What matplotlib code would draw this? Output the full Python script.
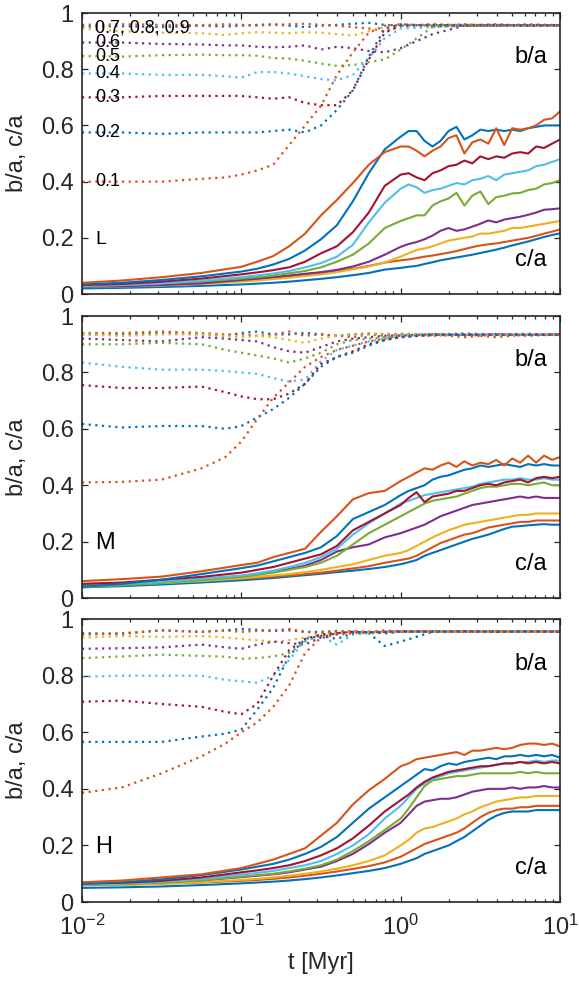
import numpy as np
import matplotlib.pyplot as plt
from matplotlib.ticker import FixedLocator, FuncFormatter, LogLocator, NullFormatter

plt.rcParams['font.family'] = ['Liberation Sans', 'DejaVu Sans']
plt.rcParams['mathtext.default'] = 'regular'

# sample times (log10 of t in Myr)
log_t_ba = [-2.0, -1.75, -1.5, -1.25, -1.1, -1.0, -0.9, -0.8, -0.7, -0.6, -0.5,
            -0.4, -0.3, -0.2, -0.1, 0.0, 0.2, 0.4, 0.6, 0.8, 1.0]
log_t_ca = [-2.0, -1.75, -1.5, -1.25, -1.0, -0.9, -0.8, -0.7, -0.6, -0.5, -0.4,
            -0.3, -0.2, -0.1, 0.0, 0.05, 0.1, 0.15, 0.2, 0.25, 0.3, 0.35, 0.4,
            0.45, 0.5, 0.55, 0.6, 0.65, 0.7, 0.75, 0.8, 0.85, 0.9, 0.95, 1.0]

ratios = ["0.9", "0.8", "0.7", "0.6", "0.5", "0.4", "0.3", "0.2", "0.1"]
colors = ["#0072BD", "#D95319", "#EDB120", "#7E2F8E", "#77AC30",
          "#4DBEEE", "#A2142F", "#0072BD", "#D95319"]

# ---- L ----
L_ba = {
    "0.9": [0.952, 0.953, 0.950, 0.955, 0.952, 0.955, 0.958, 0.960, 0.955, 0.950, 0.955, 0.958, 0.962, 0.965, 0.958, 0.955, 0.958, 0.955, 0.958, 0.955, 0.957],
    "0.8": [0.958, 0.960, 0.958, 0.957, 0.960, 0.958, 0.955, 0.958, 0.960, 0.962, 0.958, 0.955, 0.950, 0.945, 0.935, 0.955, 0.960, 0.957, 0.960, 0.955, 0.958],
    "0.7": [0.945, 0.935, 0.930, 0.928, 0.922, 0.928, 0.932, 0.930, 0.928, 0.932, 0.930, 0.925, 0.920, 0.935, 0.950, 0.955, 0.955, 0.958, 0.955, 0.957, 0.955],
    "0.6": [0.895, 0.895, 0.890, 0.888, 0.885, 0.885, 0.880, 0.878, 0.880, 0.885, 0.870, 0.880, 0.875, 0.865, 0.860, 0.875, 0.925, 0.955, 0.955, 0.958, 0.955],
    "0.5": [0.847, 0.845, 0.850, 0.852, 0.850, 0.850, 0.848, 0.840, 0.838, 0.830, 0.820, 0.812, 0.815, 0.825, 0.835, 0.870, 0.950, 0.955, 0.958, 0.955, 0.957],
    "0.4": [0.785, 0.785, 0.780, 0.780, 0.775, 0.770, 0.790, 0.790, 0.785, 0.775, 0.765, 0.760, 0.780, 0.840, 0.910, 0.945, 0.950, 0.955, 0.958, 0.955, 0.957],
    "0.3": [0.700, 0.700, 0.705, 0.705, 0.705, 0.705, 0.700, 0.695, 0.700, 0.680, 0.672, 0.672, 0.725, 0.835, 0.930, 0.955, 0.958, 0.955, 0.957, 0.955, 0.957],
    "0.2": [0.575, 0.575, 0.570, 0.575, 0.575, 0.575, 0.575, 0.580, 0.585, 0.575, 0.600, 0.655, 0.725, 0.845, 0.945, 0.960, 0.955, 0.958, 0.955, 0.957, 0.955],
    "0.1": [0.400, 0.400, 0.400, 0.410, 0.415, 0.425, 0.440, 0.460, 0.530, 0.600, 0.670, 0.780, 0.860, 0.930, 0.955, 0.960, 0.955, 0.960, 0.955, 0.960, 0.957],
}
L_ca = {
    "0.9": [0.020, 0.022, 0.025, 0.029, 0.034, 0.037, 0.040, 0.044, 0.049, 0.054, 0.060, 0.067, 0.075, 0.087, 0.093, 0.097, 0.100, 0.107, 0.113, 0.120, 0.125, 0.130, 0.135, 0.140, 0.146, 0.152, 0.158, 0.165, 0.173, 0.180, 0.187, 0.195, 0.203, 0.210, 0.216],
    "0.8": [0.027, 0.030, 0.034, 0.040, 0.049, 0.053, 0.058, 0.064, 0.070, 0.076, 0.082, 0.090, 0.100, 0.112, 0.120, 0.123, 0.128, 0.133, 0.137, 0.142, 0.147, 0.153, 0.160, 0.167, 0.173, 0.177, 0.180, 0.185, 0.190, 0.195, 0.200, 0.207, 0.215, 0.222, 0.230],
    "0.7": [0.025, 0.027, 0.030, 0.036, 0.044, 0.048, 0.053, 0.058, 0.064, 0.070, 0.078, 0.088, 0.098, 0.112, 0.133, 0.145, 0.157, 0.162, 0.170, 0.180, 0.190, 0.195, 0.200, 0.205, 0.215, 0.215, 0.220, 0.225, 0.235, 0.235, 0.240, 0.245, 0.250, 0.255, 0.260],
    "0.6": [0.026, 0.028, 0.032, 0.038, 0.050, 0.055, 0.060, 0.066, 0.072, 0.078, 0.086, 0.098, 0.115, 0.140, 0.168, 0.178, 0.185, 0.195, 0.208, 0.225, 0.235, 0.225, 0.230, 0.240, 0.250, 0.262, 0.255, 0.265, 0.270, 0.275, 0.282, 0.290, 0.300, 0.302, 0.305],
    "0.5": [0.030, 0.033, 0.038, 0.045, 0.055, 0.060, 0.066, 0.074, 0.082, 0.095, 0.115, 0.140, 0.180, 0.235, 0.260, 0.270, 0.280, 0.280, 0.315, 0.330, 0.340, 0.360, 0.315, 0.350, 0.365, 0.320, 0.345, 0.350, 0.358, 0.360, 0.370, 0.375, 0.390, 0.395, 0.405],
    "0.4": [0.028, 0.032, 0.038, 0.048, 0.060, 0.066, 0.073, 0.082, 0.095, 0.110, 0.133, 0.175, 0.255, 0.325, 0.375, 0.390, 0.380, 0.360, 0.370, 0.375, 0.385, 0.395, 0.390, 0.405, 0.410, 0.420, 0.405, 0.425, 0.430, 0.435, 0.440, 0.455, 0.460, 0.470, 0.480],
    "0.3": [0.032, 0.036, 0.044, 0.055, 0.070, 0.077, 0.085, 0.095, 0.115, 0.145, 0.170, 0.220, 0.290, 0.385, 0.425, 0.430, 0.415, 0.405, 0.430, 0.440, 0.455, 0.460, 0.475, 0.465, 0.490, 0.480, 0.490, 0.485, 0.500, 0.505, 0.500, 0.525, 0.520, 0.535, 0.550],
    "0.2": [0.035, 0.040, 0.050, 0.063, 0.080, 0.090, 0.105, 0.125, 0.155, 0.195, 0.245, 0.330, 0.430, 0.515, 0.560, 0.580, 0.580, 0.545, 0.525, 0.545, 0.580, 0.595, 0.550, 0.565, 0.585, 0.580, 0.585, 0.580, 0.585, 0.580, 0.590, 0.595, 0.600, 0.600, 0.600],
    "0.1": [0.040, 0.048, 0.060, 0.075, 0.097, 0.115, 0.135, 0.170, 0.215, 0.280, 0.335, 0.395, 0.460, 0.505, 0.525, 0.525, 0.510, 0.490, 0.510, 0.525, 0.555, 0.565, 0.500, 0.540, 0.550, 0.535, 0.590, 0.530, 0.590, 0.585, 0.590, 0.600, 0.620, 0.625, 0.650],
}

# ---- M ----
M_ba = {
    "0.9": [0.935, 0.935, 0.940, 0.935, 0.930, 0.940, 0.945, 0.935, 0.935, 0.940, 0.935, 0.930, 0.935, 0.938, 0.935, 0.937, 0.935, 0.938, 0.935, 0.937, 0.935],
    "0.8": [0.940, 0.940, 0.945, 0.940, 0.935, 0.935, 0.930, 0.935, 0.945, 0.930, 0.935, 0.930, 0.925, 0.935, 0.930, 0.935, 0.930, 0.935, 0.925, 0.935, 0.932],
    "0.7": [0.935, 0.930, 0.935, 0.935, 0.930, 0.925, 0.930, 0.925, 0.915, 0.905, 0.920, 0.930, 0.935, 0.935, 0.937, 0.935, 0.937, 0.935, 0.937, 0.935, 0.937],
    "0.6": [0.920, 0.915, 0.910, 0.925, 0.920, 0.915, 0.910, 0.890, 0.875, 0.870, 0.890, 0.910, 0.920, 0.925, 0.930, 0.932, 0.935, 0.933, 0.935, 0.933, 0.935],
    "0.5": [0.900, 0.900, 0.905, 0.900, 0.880, 0.870, 0.860, 0.850, 0.835, 0.850, 0.870, 0.900, 0.915, 0.920, 0.925, 0.930, 0.932, 0.935, 0.933, 0.935, 0.933],
    "0.4": [0.835, 0.820, 0.810, 0.810, 0.805, 0.800, 0.795, 0.780, 0.768, 0.775, 0.840, 0.880, 0.895, 0.910, 0.920, 0.930, 0.935, 0.933, 0.935, 0.933, 0.935],
    "0.3": [0.755, 0.745, 0.745, 0.750, 0.730, 0.715, 0.705, 0.705, 0.725, 0.760, 0.830, 0.855, 0.875, 0.900, 0.915, 0.925, 0.933, 0.935, 0.933, 0.935, 0.933],
    "0.2": [0.617, 0.605, 0.610, 0.610, 0.600, 0.610, 0.640, 0.670, 0.710, 0.760, 0.820, 0.855, 0.870, 0.895, 0.915, 0.925, 0.935, 0.933, 0.935, 0.933, 0.935],
    "0.1": [0.410, 0.412, 0.420, 0.460, 0.500, 0.555, 0.635, 0.710, 0.765, 0.820, 0.855, 0.880, 0.895, 0.910, 0.920, 0.930, 0.935, 0.925, 0.935, 0.930, 0.935],
}
M_ca = {
    "0.9": [0.038, 0.042, 0.048, 0.055, 0.063, 0.067, 0.071, 0.076, 0.081, 0.086, 0.092, 0.097, 0.103, 0.110, 0.120, 0.127, 0.135, 0.150, 0.160, 0.170, 0.180, 0.190, 0.200, 0.210, 0.217, 0.225, 0.235, 0.245, 0.253, 0.255, 0.258, 0.260, 0.262, 0.260, 0.260],
    "0.8": [0.050, 0.053, 0.057, 0.062, 0.068, 0.072, 0.076, 0.080, 0.085, 0.090, 0.097, 0.105, 0.113, 0.125, 0.135, 0.140, 0.150, 0.165, 0.180, 0.195, 0.205, 0.215, 0.225, 0.230, 0.240, 0.250, 0.255, 0.260, 0.265, 0.270, 0.270, 0.275, 0.275, 0.275, 0.275],
    "0.7": [0.045, 0.048, 0.053, 0.060, 0.070, 0.075, 0.080, 0.085, 0.092, 0.100, 0.110, 0.120, 0.135, 0.150, 0.160, 0.170, 0.185, 0.200, 0.215, 0.228, 0.240, 0.250, 0.260, 0.265, 0.270, 0.275, 0.280, 0.285, 0.290, 0.295, 0.295, 0.300, 0.300, 0.300, 0.300],
    "0.6": [0.045, 0.050, 0.058, 0.067, 0.078, 0.085, 0.093, 0.103, 0.115, 0.135, 0.165, 0.180, 0.190, 0.215, 0.230, 0.240, 0.250, 0.260, 0.275, 0.290, 0.300, 0.310, 0.320, 0.330, 0.335, 0.340, 0.345, 0.350, 0.355, 0.360, 0.355, 0.360, 0.355, 0.355, 0.355],
    "0.5": [0.038, 0.045, 0.053, 0.063, 0.075, 0.082, 0.090, 0.100, 0.110, 0.125, 0.150, 0.190, 0.230, 0.260, 0.290, 0.305, 0.320, 0.335, 0.345, 0.350, 0.355, 0.360, 0.370, 0.380, 0.390, 0.395, 0.395, 0.400, 0.405, 0.405, 0.400, 0.405, 0.410, 0.400, 0.400],
    "0.4": [0.045, 0.050, 0.058, 0.068, 0.080, 0.088, 0.097, 0.110, 0.125, 0.145, 0.175, 0.225, 0.265, 0.300, 0.335, 0.345, 0.355, 0.365, 0.370, 0.375, 0.380, 0.385, 0.390, 0.395, 0.405, 0.410, 0.415, 0.420, 0.420, 0.425, 0.420, 0.420, 0.425, 0.420, 0.420],
    "0.3": [0.050, 0.055, 0.065, 0.075, 0.090, 0.100, 0.110, 0.125, 0.140, 0.155, 0.185, 0.240, 0.270, 0.300, 0.330, 0.355, 0.375, 0.340, 0.360, 0.365, 0.370, 0.380, 0.380, 0.390, 0.400, 0.405, 0.400, 0.410, 0.415, 0.420, 0.410, 0.425, 0.430, 0.425, 0.430],
    "0.2": [0.040, 0.050, 0.065, 0.085, 0.106, 0.115, 0.130, 0.145, 0.160, 0.180, 0.220, 0.280, 0.305, 0.330, 0.365, 0.380, 0.390, 0.400, 0.420, 0.430, 0.435, 0.445, 0.455, 0.460, 0.470, 0.465, 0.470, 0.475, 0.470, 0.465, 0.475, 0.470, 0.475, 0.470, 0.470],
    "0.1": [0.060, 0.067, 0.076, 0.095, 0.117, 0.125, 0.145, 0.160, 0.175, 0.235, 0.290, 0.350, 0.372, 0.380, 0.415, 0.430, 0.445, 0.460, 0.455, 0.470, 0.480, 0.465, 0.485, 0.470, 0.480, 0.475, 0.490, 0.470, 0.495, 0.480, 0.505, 0.480, 0.505, 0.490, 0.500],
}

# ---- H ----
H_ba = {
    "0.9": [0.950, 0.948, 0.960, 0.955, 0.960, 0.965, 0.962, 0.958, 0.960, 0.955, 0.955, 0.958, 0.955, 0.950, 0.905, 0.920, 0.955, 0.957, 0.955, 0.957, 0.955],
    "0.8": [0.945, 0.950, 0.960, 0.955, 0.960, 0.955, 0.958, 0.960, 0.965, 0.955, 0.950, 0.955, 0.958, 0.955, 0.957, 0.955, 0.958, 0.955, 0.957, 0.955, 0.958],
    "0.7": [0.935, 0.940, 0.937, 0.940, 0.935, 0.930, 0.925, 0.920, 0.925, 0.935, 0.945, 0.950, 0.955, 0.953, 0.955, 0.957, 0.955, 0.957, 0.955, 0.957, 0.955],
    "0.6": [0.895, 0.897, 0.900, 0.910, 0.900, 0.895, 0.910, 0.920, 0.915, 0.910, 0.935, 0.950, 0.955, 0.953, 0.955, 0.957, 0.955, 0.957, 0.955, 0.957, 0.955],
    "0.5": [0.862, 0.868, 0.874, 0.870, 0.867, 0.860, 0.862, 0.868, 0.880, 0.920, 0.945, 0.950, 0.955, 0.953, 0.955, 0.957, 0.955, 0.957, 0.955, 0.957, 0.955],
    "0.4": [0.796, 0.800, 0.800, 0.800, 0.785, 0.780, 0.775, 0.800, 0.855, 0.925, 0.940, 0.910, 0.945, 0.950, 0.950, 0.955, 0.957, 0.955, 0.957, 0.955, 0.957],
    "0.3": [0.708, 0.712, 0.700, 0.690, 0.672, 0.664, 0.700, 0.800, 0.890, 0.930, 0.945, 0.950, 0.955, 0.953, 0.955, 0.957, 0.955, 0.957, 0.955, 0.957, 0.955],
    "0.2": [0.566, 0.566, 0.566, 0.585, 0.595, 0.610, 0.680, 0.757, 0.870, 0.930, 0.940, 0.930, 0.950, 0.955, 0.950, 0.955, 0.957, 0.955, 0.957, 0.955, 0.957],
    "0.1": [0.386, 0.405, 0.455, 0.515, 0.560, 0.600, 0.635, 0.690, 0.765, 0.880, 0.935, 0.945, 0.950, 0.955, 0.960, 0.955, 0.958, 0.955, 0.958, 0.955, 0.958],
}
H_ca = {
    "0.9": [0.050, 0.052, 0.055, 0.060, 0.066, 0.069, 0.072, 0.076, 0.081, 0.087, 0.094, 0.102, 0.110, 0.120, 0.135, 0.145, 0.155, 0.170, 0.180, 0.190, 0.200, 0.215, 0.230, 0.250, 0.270, 0.290, 0.305, 0.315, 0.320, 0.320, 0.320, 0.325, 0.325, 0.325, 0.325],
    "0.8": [0.060, 0.062, 0.065, 0.069, 0.075, 0.078, 0.082, 0.087, 0.093, 0.100, 0.108, 0.117, 0.127, 0.140, 0.160, 0.175, 0.190, 0.205, 0.215, 0.225, 0.235, 0.245, 0.260, 0.280, 0.300, 0.315, 0.325, 0.330, 0.330, 0.335, 0.335, 0.340, 0.340, 0.340, 0.340],
    "0.7": [0.058, 0.060, 0.064, 0.070, 0.078, 0.082, 0.087, 0.093, 0.100, 0.108, 0.118, 0.130, 0.145, 0.165, 0.200, 0.220, 0.245, 0.260, 0.265, 0.275, 0.285, 0.295, 0.310, 0.320, 0.335, 0.345, 0.355, 0.360, 0.365, 0.370, 0.370, 0.375, 0.375, 0.375, 0.375],
    "0.6": [0.062, 0.065, 0.070, 0.077, 0.088, 0.093, 0.098, 0.105, 0.115, 0.125, 0.145, 0.170, 0.205, 0.245, 0.280, 0.310, 0.340, 0.355, 0.360, 0.365, 0.365, 0.370, 0.380, 0.390, 0.395, 0.400, 0.400, 0.400, 0.405, 0.400, 0.405, 0.405, 0.410, 0.405, 0.405],
    "0.5": [0.060, 0.063, 0.069, 0.077, 0.090, 0.095, 0.100, 0.108, 0.118, 0.130, 0.150, 0.180, 0.215, 0.255, 0.295, 0.330, 0.370, 0.410, 0.430, 0.435, 0.440, 0.445, 0.445, 0.450, 0.455, 0.455, 0.455, 0.455, 0.455, 0.460, 0.455, 0.460, 0.455, 0.455, 0.455],
    "0.4": [0.060, 0.065, 0.072, 0.082, 0.097, 0.103, 0.110, 0.120, 0.130, 0.145, 0.170, 0.200, 0.240, 0.295, 0.340, 0.370, 0.400, 0.420, 0.435, 0.445, 0.455, 0.460, 0.465, 0.470, 0.475, 0.480, 0.485, 0.490, 0.490, 0.495, 0.495, 0.500, 0.495, 0.500, 0.500],
    "0.3": [0.065, 0.068, 0.075, 0.087, 0.105, 0.112, 0.120, 0.130, 0.145, 0.165, 0.190, 0.225, 0.270, 0.320, 0.360, 0.380, 0.405, 0.425, 0.440, 0.450, 0.460, 0.465, 0.470, 0.475, 0.480, 0.480, 0.485, 0.490, 0.490, 0.495, 0.490, 0.495, 0.490, 0.495, 0.490],
    "0.2": [0.065, 0.070, 0.080, 0.095, 0.115, 0.125, 0.135, 0.150, 0.170, 0.195, 0.230, 0.280, 0.330, 0.370, 0.410, 0.430, 0.450, 0.470, 0.465, 0.480, 0.490, 0.485, 0.495, 0.500, 0.505, 0.510, 0.505, 0.515, 0.515, 0.520, 0.515, 0.520, 0.515, 0.520, 0.510],
    "0.1": [0.070, 0.076, 0.087, 0.098, 0.120, 0.135, 0.150, 0.170, 0.190, 0.235, 0.280, 0.345, 0.395, 0.435, 0.480, 0.490, 0.505, 0.510, 0.515, 0.520, 0.525, 0.530, 0.520, 0.535, 0.535, 0.540, 0.545, 0.540, 0.545, 0.555, 0.560, 0.560, 0.555, 0.560, 0.550],
}

panels = [("L", L_ba, L_ca), ("M", M_ba, M_ca), ("H", H_ba, H_ca)]
boxes = [[0.1416, 0.7024, 0.8256, 0.2844],
         [0.1416, 0.3947, 0.8256, 0.2854],
         [0.1416, 0.0870, 0.8256, 0.2864]]
letter_size = {"L": 14, "M": 17, "H": 17}

axis_col = (0.15, 0.15, 0.15)
t_ba = 10.0 ** np.array(log_t_ba)
t_ca = 10.0 ** np.array(log_t_ca)

fig = plt.figure(figsize=(5.79, 9.88), dpi=100)

for i, ((name, ba, ca), box) in enumerate(zip(panels, boxes)):
    ax = fig.add_axes(box)
    for r, c in zip(ratios, colors):
        ax.plot(t_ba, ba[r], color=c, lw=1.6, linestyle=(0, (1, 2)),
                dash_capstyle='butt')
        ax.plot(t_ca, ca[r], color=c, lw=1.5)

    ax.set_xscale('log')
    ax.set_xlim(1e-2, 1e1)
    ax.set_ylim(0, 1)
    ax.yaxis.set_major_locator(FixedLocator([0, 0.2, 0.4, 0.6, 0.8, 1.0]))
    ax.yaxis.set_major_formatter(FuncFormatter(lambda v, p: f"{v:g}"))
    ax.xaxis.set_major_locator(LogLocator(base=10, numticks=10))
    ax.xaxis.set_minor_locator(LogLocator(base=10, subs=np.arange(2, 10), numticks=20))
    ax.xaxis.set_minor_formatter(NullFormatter())

    ax.tick_params(which='both', direction='in', top=True, right=True,
                   color=axis_col, labelcolor=axis_col, width=0.9)
    ax.tick_params(which='major', length=4.5, labelsize=17)
    ax.tick_params(which='minor', length=2.5)
    ax.tick_params(axis='y', which='major', pad=6)
    ax.tick_params(axis='x', which='major', pad=9)
    for s in ax.spines.values():
        s.set_linewidth(1.2)
        s.set_color(axis_col)

    ax.set_ylabel('b/a, c/a', fontsize=17, color=axis_col)
    ax.yaxis.set_label_coords(-0.113, 0.5)

    if i < 2:
        ax.tick_params(labelbottom=False)
    else:
        ax.set_xlabel('t [Myr]', fontsize=17, color=axis_col)
        ax.xaxis.set_label_coords(0.5, -0.175)

    ax.text(8.3, 0.843, 'b/a', ha='right', va='center', fontsize=17)
    ax.text(8.3, 0.122, 'c/a', ha='right', va='center', fontsize=17)
    ax.text(0.0121, 0.195, name, ha='left', va='center', fontsize=letter_size[name])

    if name == "L":
        start = {r: ba[r][0] for r in ratios}
        for r in ["0.1", "0.2", "0.3", "0.4", "0.5", "0.6"]:
            ax.text(0.0121, start[r], r, ha='left', va='center', fontsize=13)
        ax.text(0.0121, 0.947, '0.7, 0.8, 0.9', ha='left', va='center', fontsize=13)

fig.savefig('out.png', dpi=100)
